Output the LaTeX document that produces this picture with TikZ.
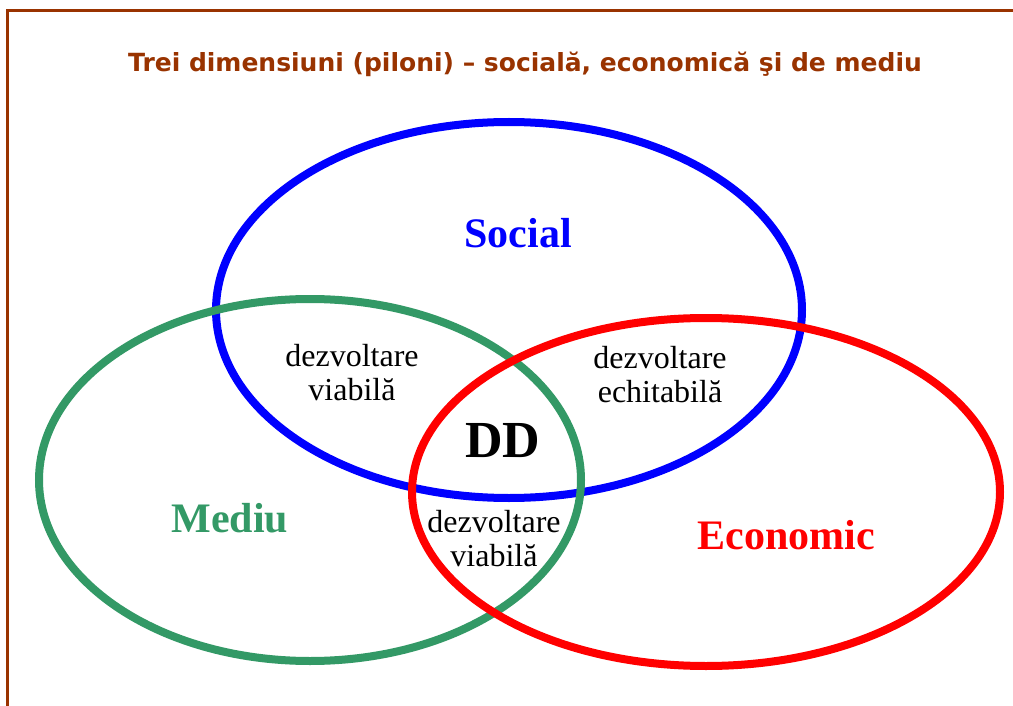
\documentclass[tikz,border=0pt]{standalone}
\usepackage{fontspec}
\setmainfont{Liberation Serif}
\newfontfamily\titlefont{DejaVu Sans}
\definecolor{framebrown}{HTML}{993300}
\definecolor{mgreen}{HTML}{339966}
\definecolor{sblue}{HTML}{0000FF}
\definecolor{ered}{HTML}{FF0000}
\tikzset{
  pillar/.style={line width=8pt},
  bigword/.style={font=\fontsize{42}{46}\selectfont\bfseries, inner sep=0pt},
  smalltext/.style={font=\fontsize{32}{34}\selectfont, align=center, inner sep=0pt},
}
\begin{document}
\begin{tikzpicture}[x=1pt,y=-1pt]
\useasboundingbox (0,0) rectangle (1013,706);
\clip (0,0) rectangle (1013,706);
\fill[white] (0,0) rectangle (1013,706);
\draw[framebrown, line width=2.2pt] (7.5,10.5) rectangle (1030,730);
\node[font=\titlefont\fontsize{25}{28}\selectfont\bfseries, text=framebrown, inner sep=0pt] (title) at (525,64) {Trei dimensiuni (piloni) – socială, economică şi de mediu};
\draw[pillar, sblue] (509,310) ellipse [x radius=293, y radius=188];
\draw[pillar, mgreen] (310,480) ellipse [x radius=271, y radius=181];
\draw[pillar, ered] (706,492) ellipse [x radius=294, y radius=174];
\node[bigword, text=sblue] (social) at (518,233) {Social};
\node[bigword, text=mgreen] (mediu) at (230,518) {Mediu};
\node[bigword, text=ered] (econ) at (786,535) {Economic};
\node[font=\fontsize{52}{56}\selectfont\bfseries, inner sep=0pt] (dd) at (503,441) {DD};
\node[smalltext] (v1) at (352,373) {dezvoltare\\viabilă};
\node[smalltext] (ech) at (660,375) {dezvoltare\\echitabilă};
\node[smalltext] (v2) at (494,539) {dezvoltare\\viabilă};
\end{tikzpicture}
\end{document}
